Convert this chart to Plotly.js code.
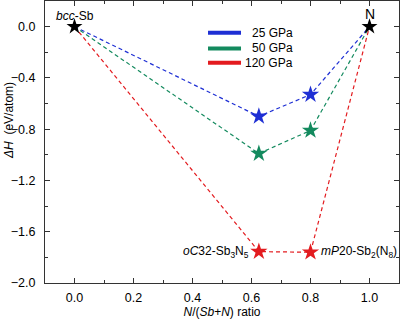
<!DOCTYPE html>
<html><head><meta charset="utf-8">
<script src="https://cdn.plot.ly/plotly-3.0.1.min.js"></script>
<style>html,body{margin:0;padding:0;background:#fff}#chart{width:400px;height:324px}</style>
</head><body><div id="chart"></div>
<script>
const ratio = [0.0, 0.625, 0.8, 1.0];
const seriesNames = ['25 GPa', '50 GPa', '120 GPa'];
const dH25 = [0.0, -0.70, -0.53, 0.0];
const dH50 = [0.0, -0.99, -0.81, 0.0];
const dH120 = [0.0, -1.755, -1.76, 0.0];
const colors = ['#1e2fd4', '#138a5e', '#e31b1f'];
const series = [dH25, dH50, dH120];

const traces = [];
series.forEach((ys, i) => {
  traces.push({x: ratio, y: ys, mode: 'lines', name: seriesNames[i], showlegend: false, hoverinfo: 'skip',
    line: {color: colors[i], width: 1.2, dash: '4px,3px'}});
});
series.forEach((ys, i) => {
  traces.push({x: ratio.slice(1, 3), y: ys.slice(1, 3), mode: 'markers', showlegend: false,
    marker: {symbol: 'star', size: 13, color: colors[i], line: {width: 0}}});
});
traces.push({x: [ratio[0], ratio[3]], y: [dH25[0], dH25[3]], mode: 'markers', showlegend: false,
  marker: {symbol: 'star', size: 12, color: '#000', line: {width: 0}}});

const font = {family: 'Liberation Sans, Arial, sans-serif', size: 12, color: '#000'};
const tickFont = Object.assign({}, font, {size: 12.5});
const axisCommon = {showline: true, linecolor: '#333', linewidth: 1, mirror: 'ticks',
  ticks: 'inside', ticklen: 5, tickcolor: '#333', showgrid: false, zeroline: false,
  tickfont: tickFont};

// manual legend (solid thick swatches, right-aligned labels)
const legendRowsY = [0.887, 0.832, 0.781];
const shapes = [];
const annotations = [];
seriesNames.forEach((n, i) => {
  shapes.push({type: 'line', xref: 'paper', yref: 'paper', x0: 0.4605, x1: 0.5537,
    y0: legendRowsY[i], y1: legendRowsY[i], line: {color: colors[i], width: 4}});
  annotations.push({xref: 'paper', yref: 'paper', x: 0.706, y: legendRowsY[i], xanchor: 'right',
    yanchor: 'middle', text: n, showarrow: false, font: font});
});

annotations.push(
  {x: 0, y: 0.085, xref: 'x', yref: 'y', text: '<i>bcc</i>-Sb', showarrow: false, font: font},
  {x: 1.0, y: 0.10, xref: 'x', yref: 'y', text: 'N', showarrow: false,
    font: Object.assign({}, font, {size: 14})},
  {x: 0.625, y: -1.755, xref: 'x', yref: 'y', text: '<i>oC</i>32-Sb<sub>3</sub>N<sub>5</sub>',
    showarrow: false, xanchor: 'right', xshift: -8, font: font},
  {x: 0.8, y: -1.76, xref: 'x', yref: 'y', text: '<i>mP</i>20-Sb<sub>2</sub>(N<sub>8</sub>)',
    showarrow: false, xanchor: 'left', xshift: 8, font: font},
  {xref: 'paper', yref: 'paper', x: -0.1017, y: 0.578, xanchor: 'center', yanchor: 'middle',
    textangle: -90, text: '<i>ΔH</i>  (eV/atom)', showarrow: false, font: font}
);

const layout = {
  width: 400, height: 324,
  margin: {l: 45, r: 1, t: 1, b: 41},
  paper_bgcolor: '#fff', plot_bgcolor: '#fff',
  font: font,
  showlegend: false,
  xaxis: Object.assign({}, axisCommon, {range: [-0.1, 1.1], tick0: 0, dtick: 0.2, tickformat: '.1f',
    ticklabelstandoff: 3,
    minor: {dtick: 0.1, ticks: 'inside', ticklen: 3, tickcolor: '#333'},
    title: {text: '<i>N</i>/(<i>Sb</i>+<i>N</i>) ratio', font: font, standoff: 1}}),
  yaxis: Object.assign({}, axisCommon, {range: [-2.0, 0.2], tick0: 0, dtick: 0.4, tickformat: '.1f',
    ticklabelstandoff: 6,
    minor: {dtick: 0.2, ticks: 'inside', ticklen: 3, tickcolor: '#333'}}),
  shapes: shapes,
  annotations: annotations
};
Plotly.newPlot('chart', traces, layout, {staticPlot: true, displayModeBar: false});
</script></body></html>
